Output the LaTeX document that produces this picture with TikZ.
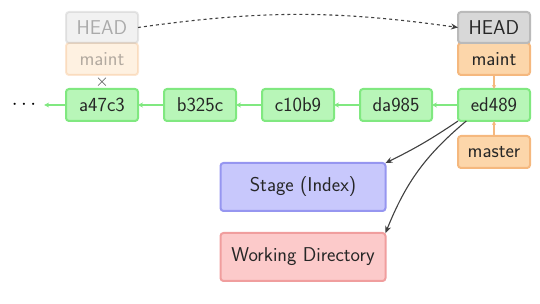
\documentclass[tikz,border=0pt]{standalone}
\usetikzlibrary{positioning,arrows.meta}
\definecolor{commitfill}{RGB}{184,246,184}
\definecolor{commitline}{RGB}{128,232,128}
\definecolor{headfill}{RGB}{216,216,216}
\definecolor{headline}{RGB}{186,186,186}
\definecolor{branchfill}{RGB}{252,214,170}
\definecolor{branchline}{RGB}{245,184,126}
\definecolor{stagefill}{RGB}{200,200,252}
\definecolor{stageline}{RGB}{150,150,240}
\definecolor{wdfill}{RGB}{252,202,202}
\definecolor{wdline}{RGB}{240,158,158}
\begin{document}
\begin{tikzpicture}[
    x=1pt, y=1pt,
    node distance=26pt,
    every node/.style={font=\fontsize{20}{24}\selectfont\sffamily, text=black!85, rounded corners=3pt, line width=2pt, outer sep=0pt},
    commit/.style={draw=commitline, fill=commitfill, minimum width=72pt, minimum height=32pt},
    headref/.style={draw=headline, fill=headfill, minimum width=72pt, minimum height=31pt},
    branch/.style={draw=branchline, fill=branchfill, minimum width=72pt, minimum height=32pt},
    area/.style={minimum width=165pt, minimum height=48pt},
    ghost/.style={opacity=0.35},
    parent/.style={draw=commitline, line width=1.2pt, -{Stealth[length=5pt,width=5pt]}},
    pointer/.style={draw=branchline, line width=1.2pt, -{Stealth[length=4pt,width=4pt]}},
    move/.style={draw=black!75, line width=1.1pt, -{Stealth[length=7pt,width=6pt]}}
]
\useasboundingbox (0,0) rectangle (540,304);
% commits
\node[commit] (a47c3) at (102,199) {a47c3};
\node[commit, right=of a47c3] (b325c) {b325c};
\node[commit, right=of b325c] (c10b9) {c10b9};
\node[commit, right=of c10b9] (da985) {da985};
\node[commit, right=of da985] (ed489) {ed489};
\node[text=black, inner xsep=8pt] (dots) at (24,199) {$\cdots$};
% refs
\node[branch, above=14pt of ed489] (maint) {maint};
\node[headref, above=0pt of maint] (head) {HEAD};
\node[branch, below=15pt of ed489] (master) {master};
\node[branch, ghost, above=14pt of a47c3] (oldmaint) {maint};
\node[headref, ghost, above=0pt of oldmaint] (oldhead) {HEAD};
\node[text=black!70, inner sep=0pt, font=\fontsize{18}{18}\selectfont] (cross) at (102,221.5) {$\times$};
% areas
\node[area, draw=stageline, fill=stagefill] (stage) at (303,117) {Stage (Index)};
\node[area, draw=wdline, fill=wdfill] (wd) at (303,47) {Working Directory};
% connectors
\draw[parent] (b325c) -- (a47c3);
\draw[parent] (c10b9) -- (b325c);
\draw[parent] (da985) -- (c10b9);
\draw[parent] (ed489) -- (da985);
\draw[parent] (a47c3) -- (dots.east);
\draw[pointer] (maint) -- (ed489);
\draw[pointer] (master) -- (ed489);
\draw[move, dashed, dash pattern=on 3pt off 3pt] (oldhead.east) to[bend left=8] (head.west);
\draw[move] (ed489.south west) to[bend left=4] (stage.north east);
\draw[move] (ed489.-150) to[out=-140, in=68] (wd.north east);
\end{tikzpicture}
\end{document}
